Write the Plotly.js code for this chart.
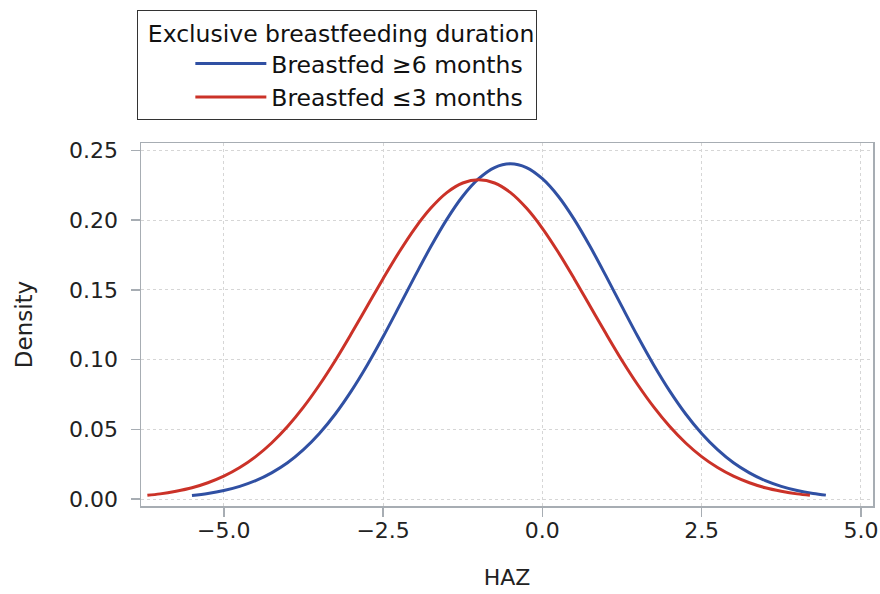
<!DOCTYPE html>
<html>
<head>
<meta charset="utf-8">
<script src="https://cdn.plot.ly/plotly-3.0.1.min.js"></script>
<style>html,body{margin:0;padding:0;background:#fff;}#chart{width:880px;height:594px;}</style>
</head>
<body>
<div id="chart"></div>
<script>
// Series: Breastfed >=6 months (blue)
const hazLong = [-5.5,-5.25,-5.0,-4.75,-4.5,-4.25,-4.0,-3.75,-3.5,-3.25,-3.0,-2.75,-2.5,-2.25,-2.0,-1.75,-1.5,-1.25,-1.0,-0.75,-0.5,
  -0.25,0.0,0.25,0.5,0.75,1.0,1.25,1.5,1.75,2.0,2.25,2.5,2.75,3.0,3.25,3.5,3.75,4.0,4.25,4.45];
const densLong = [0.0026,0.0040,0.0061,0.0091,0.0132,0.0188,0.0260,0.0354,0.0470,0.0610,0.0774,0.0960,0.1164,0.1380,0.1599,0.1811,0.2006,0.2172,0.2298,0.2378,0.2405,
  0.2378,0.2298,0.2172,0.2006,0.1811,0.1599,0.1380,0.1164,0.0960,0.0774,0.0610,0.0470,0.0354,0.0260,0.0188,0.0132,0.0091,0.0061,0.0040,0.0028];

// Series: Breastfed <=3 months (red)
const hazShort = [-6.2,-6.0,-5.75,-5.5,-5.25,-5.0,-4.75,-4.5,-4.25,-4.0,-3.75,-3.5,-3.25,-3.0,-2.75,-2.5,-2.25,-2.0,-1.75,-1.5,-1.25,-1.0,
  -0.75,-0.5,-0.25,0.0,0.25,0.5,0.75,1.0,1.25,1.5,1.75,2.0,2.25,2.5,2.75,3.0,3.25,3.5,3.75,4.0,4.2];
const densShort = [0.0027,0.0037,0.0056,0.0081,0.0117,0.0164,0.0226,0.0304,0.0402,0.0520,0.0659,0.0818,0.0994,0.1185,0.1383,0.1581,0.1770,0.1942,0.2087,0.2198,0.2267,0.2290,
  0.2267,0.2198,0.2087,0.1942,0.1770,0.1581,0.1383,0.1185,0.0994,0.0818,0.0659,0.0520,0.0402,0.0304,0.0226,0.0164,0.0117,0.0081,0.0056,0.0037,0.0027];

const seriesNames = ["Breastfed \u22656 months", "Breastfed \u22643 months"];
const legendTitle = "Exclusive breastfeeding duration";
const xTicks = [-5.0, -2.5, 0.0, 2.5, 5.0];
const yTicks = [0.00, 0.05, 0.10, 0.15, 0.20, 0.25];
const xTitle = "HAZ";
const yTitle = "Density";

const FONT = "DejaVu Sans, Liberation Sans, Arial, sans-serif";
const frameColor = "#a7adb3";

const traces = [
  {x: hazLong, y: densLong, name: seriesNames[0], type: "scatter", mode: "lines",
   line: {color: "#3050a3", width: 3, shape: "spline", smoothing: 1}},
  {x: hazShort, y: densShort, name: seriesNames[1], type: "scatter", mode: "lines",
   line: {color: "#cb3228", width: 3, shape: "spline", smoothing: 1}}
];

const layout = {
  width: 880, height: 594,
  margin: {l: 141, r: 7, t: 143, b: 88, pad: 0},
  paper_bgcolor: "#ffffff", plot_bgcolor: "#ffffff",
  font: {family: FONT, size: 22, color: "#222222"},
  showlegend: true,
  legend: {
    x: -0.005, y: 1.366, xanchor: "left", yanchor: "top",
    bgcolor: "#ffffff", bordercolor: "#333333", borderwidth: 1,
    font: {family: FONT, size: 23.5, color: "#111111"},
    title: {text: "\u00a0" + legendTitle, font: {family: FONT, size: 23.5, color: "#111111"}},
    indentation: 52, itemwidth: 71,
    traceorder: "normal", tracegroupgap: 0
  },
  xaxis: {
    range: [-6.3, 5.19], tickvals: xTicks, tickformat: ".1f",
    showgrid: true, gridcolor: "#d6d6d6", griddash: "dot", gridwidth: 1,
    zeroline: false, showline: true, mirror: true, linecolor: frameColor, linewidth: 1.5,
    ticks: "outside", ticklen: 9, tickwidth: 1.5, tickcolor: frameColor,
    ticklabelstandoff: -5,
    tickfont: {family: FONT, size: 22, color: "#222222"},
    title: {text: xTitle, font: {family: FONT, size: 22, color: "#222222"}, standoff: 27}
  },
  yaxis: {
    range: [-0.005, 0.2554], tickvals: yTicks, tickformat: ".2f",
    showgrid: true, gridcolor: "#d6d6d6", griddash: "dot", gridwidth: 1,
    zeroline: false, showline: true, mirror: true, linecolor: frameColor, linewidth: 1.5,
    ticks: "outside", ticklen: 9, tickwidth: 1.5, tickcolor: frameColor,
    ticklabelstandoff: 8,
    tickfont: {family: FONT, size: 22, color: "#222222"},
    title: {text: yTitle, font: {family: FONT, size: 23, color: "#222222"}, standoff: 30}
  }
};

Plotly.newPlot("chart", traces, layout, {displayModeBar: false, staticPlot: true});
</script>
</body>
</html>
